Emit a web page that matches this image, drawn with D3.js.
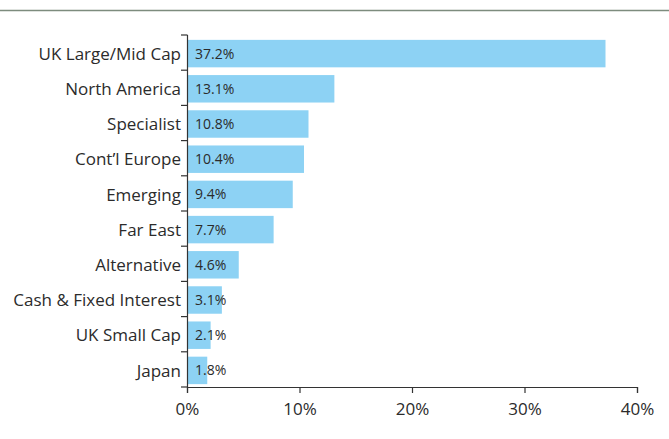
<!DOCTYPE html>
<html>
<head>
<meta charset="utf-8">
<script src="https://cdn.jsdelivr.net/npm/d3@7"></script>
<style>
  body { margin: 0; background: #fff; }
  svg text { font-family: "Open Sans", "DejaVu Sans", sans-serif; fill: #2b2b2b; }
</style>
</head>
<body>
<div id="chart"></div>
<script>
var categories = ['UK Large/Mid Cap', 'North America', 'Specialist', 'Cont\u2019l Europe', 'Emerging',
    'Far East', 'Alternative', 'Cash & Fixed Interest', 'UK Small Cap', 'Japan'];
var values = [37.2, 13.1, 10.8, 10.4, 9.4, 7.7, 4.6, 3.1, 2.1, 1.8];
var xTicks = [0, 10, 20, 30, 40];

var W = 669, H = 439;
var svg = d3.select('#chart').append('svg')
    .attr('width', W)
    .attr('height', H);

// rule across the top
svg.append('line')
    .attr('x1', 0).attr('x2', W)
    .attr('y1', 10.5).attr('y2', 10.5)
    .attr('stroke', '#7d8c7e')
    .attr('stroke-width', 1.5);

var x = d3.scaleLinear().domain([0, 40]).range([187, 637]);
var y = d3.scaleBand().domain(categories).range([35, 387]).paddingInner(0.22).paddingOuter(0.11);

// bars
svg.selectAll('rect.bar').data(values)
    .enter().append('rect')
        .attr('class', 'bar')
        .attr('x', x(0))
        .attr('y', function(d, i) { return y(categories[i]) + 1 })
        .attr('width', function(d) { return x(d) - x(0) })
        .attr('height', y.bandwidth())
        .attr('fill', '#8dd2f4');

// value labels
svg.selectAll('text.val').data(values)
    .enter().append('text')
        .attr('class', 'val')
        .attr('x', x(0) + 8)
        .attr('y', function(d, i) { return y(categories[i]) + 1 + y.bandwidth() / 2 })
        .attr('dy', '0.36em')
        .style('font-size', '14px')
        .text(function(d) { return d.toFixed(1) + '%' });

// y axis: line with ticks at band boundaries
var step = y.step();
var boundaries = d3.range(categories.length + 1).map(function(i) { return 35 + i * step });
svg.append('line')
    .attr('x1', 187.5).attr('x2', 187.5)
    .attr('y1', 35).attr('y2', 387)
    .attr('stroke', '#333').attr('stroke-width', 1.2);
svg.selectAll('line.ytick').data(boundaries)
    .enter().append('line')
        .attr('class', 'ytick')
        .attr('x1', 181).attr('x2', 187.5)
        .attr('y1', function(d) { return d }).attr('y2', function(d) { return d })
        .attr('stroke', '#333').attr('stroke-width', 1.2);
svg.selectAll('text.cat').data(categories)
    .enter().append('text')
        .attr('class', 'cat')
        .attr('x', 181)
        .attr('y', function(d) { return y(d) + 1 + y.bandwidth() / 2 })
        .attr('dy', '0.36em')
        .attr('text-anchor', 'end')
        .style('font-size', '17px')
        .text(function(d) { return d });

// x axis
var xAxis = svg.append('g')
    .attr('transform', 'translate(0,387)')
    .call(d3.axisBottom(x).tickValues(xTicks).tickSize(6).tickPadding(10)
        .tickFormat(function(d) { return d + '%' }));
xAxis.select('.domain').attr('stroke', '#333').attr('stroke-width', 1.2);
xAxis.selectAll('.tick line').attr('stroke', '#333').attr('stroke-width', 1.2);
xAxis.selectAll('.tick text')
    .style('font-size', '17px')
    .style('font-family', '"Open Sans", "DejaVu Sans", sans-serif')
    .attr('fill', '#2b2b2b');
</script>
</body>
</html>
